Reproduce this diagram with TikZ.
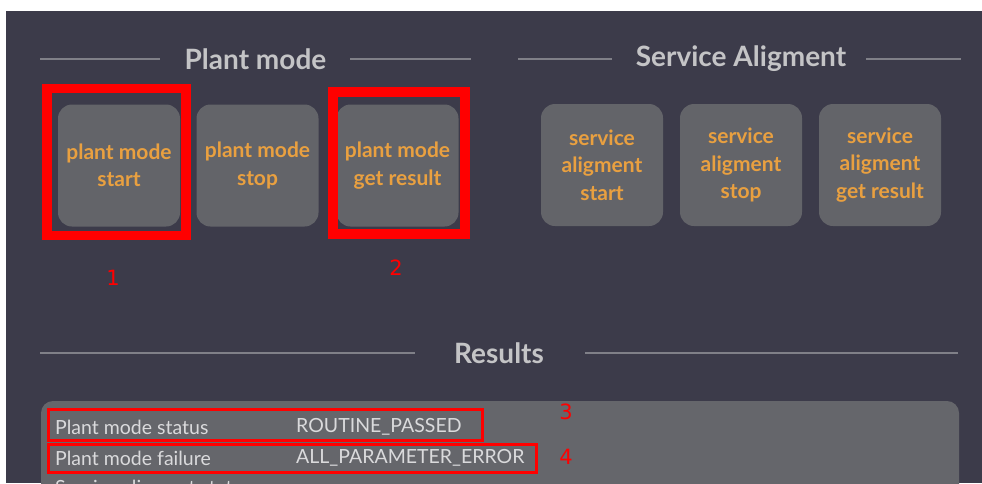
\documentclass[tikz,border=0pt]{standalone}
\usepackage{fontspec}
\setmainfont{Lato}
\newfontfamily\numfont{DejaVu Sans}
\definecolor{panelbg}{RGB}{60,59,74}
\definecolor{btnbg}{RGB}{99,100,105}
\definecolor{resbg}{RGB}{101,102,107}
\definecolor{rulecol}{RGB}{128,128,136}
\definecolor{headcol}{RGB}{196,196,198}
\definecolor{btntext}{RGB}{233,160,64}
\definecolor{rowtext}{RGB}{218,218,220}
\definecolor{markred}{RGB}{255,0,0}
\tikzset{
  heading/.style={text=headcol, font=\fontsize{28}{32}\selectfont\bfseries, inner sep=0pt},
  rulebar/.style={draw=rulecol, line width=2.5pt},
  btn/.style={fill=btnbg, rounded corners=14pt, minimum width=122pt, minimum height=122pt,
    text=btntext, align=center, inner sep=0pt,
    font=\fontsize{21}{27.5}\selectfont\bfseries},
  markbox/.style={draw=markred, minimum width=#1, inner sep=0pt},
  marknum/.style={text=markred, font=\numfont\fontsize{21}{24}\selectfont, inner sep=0pt},
  rowtxt/.style={text=rowtext, anchor=west, inner sep=0pt, font=\fontsize{19.5}{22}\selectfont},
}
\begin{document}
\begin{tikzpicture}[x=1pt,y=-1pt]
\useasboundingbox (0,0) rectangle (982,483);
\clip (0,0) rectangle (982,483);
\fill[white] (0,0) rectangle (982,483);
\fill[panelbg] (6,11) rectangle (982,483);

% section headings with rules
\node[heading] (hplant) at (255.5,59) {Plant mode};
\draw[rulebar] (40,59) -- (160,59);
\draw[rulebar] (350,59) -- (471,59);
\node[heading] (hserv) at (741,59) {Service Aligment};
\draw[rulebar] (518,59) -- (612,59);
\draw[rulebar] (866,59) -- (961,59);

% plant mode buttons
\node[btn] (pstart) at (119,165.5) {plant mode\\start};
\node[btn] (pstop) at (257.5,165.5) {plant mode\\stop};
\node[btn] (presult) at (397.5,165.5) {plant mode\\get result};

% service alignment buttons
\node[btn] (sstart) at (602,165) {service\\aligment\\start};
\node[btn] (sstop) at (741,165) {service\\aligment\\stop};
\node[btn] (sresult) at (880,165) {service\\aligment\\get result};

% highlight frames around buttons
\node[markbox=139pt, minimum height=147pt, line width=9.5pt] (m1) at (116.5,162) {};
\node[markbox=132pt, minimum height=142pt, line width=10pt] (m2) at (399,163) {};
\node[marknum] (n1) at (113,278) {1};
\node[marknum] (n2) at (396,268) {2};

% results heading
\node[heading] (hres) at (499,353) {Results};
\draw[rulebar] (40,353) -- (415,353);
\draw[rulebar] (585,353) -- (958,353);

% results table
\fill[resbg, rounded corners=12pt] (41,401) rectangle (959,540);
\node[rowtxt] (k1) at (55,427) {Plant mode status};
\node[rowtxt] (v1) at (296,427) {ROUTINE\_PASSED};
\node[rowtxt] (k2) at (55,458) {Plant mode failure};
\node[rowtxt] (v2) at (296,458) {ALL\_PARAMETER\_ERROR};
\node[rowtxt] (k3) at (55,489) {Service aligment status};

% highlight frames around result rows
\node[markbox=434pt, minimum height=31pt, line width=3pt] (m3) at (265,424.5) {};
\node[markbox=488pt, minimum height=28pt, line width=3pt] (m4) at (292,458) {};
\node[marknum] (n3) at (566,412) {3};
\node[marknum] (n4) at (566,457) {4};
\end{tikzpicture}
\end{document}
